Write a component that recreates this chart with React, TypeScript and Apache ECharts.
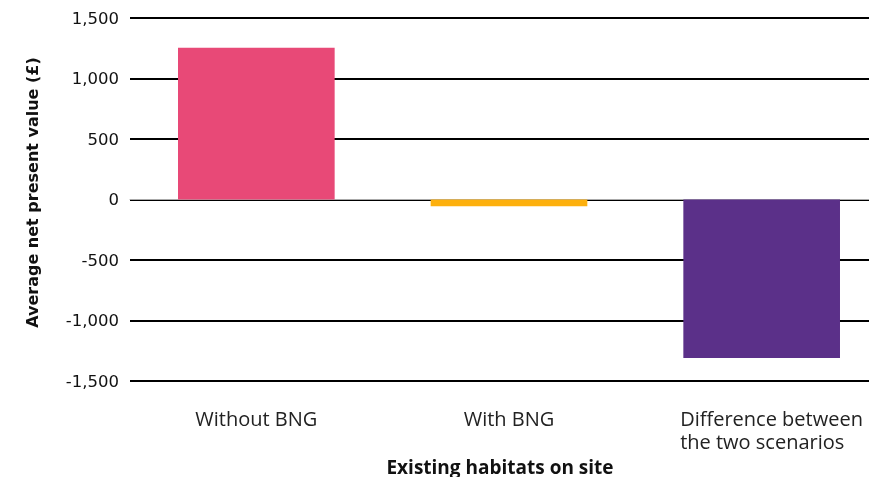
import React, { useEffect, useRef } from "react";
import * as echarts from "echarts";

const categories = ["Without BNG", "With BNG", "Difference between\nthe two scenarios"];
const values = [1255, -55, -1310];
const colors = ["#E84977", "#FDB00D", "#5B3089"];
const yTicks = { min: -1500, max: 1500, interval: 500 };

export default function App() {
  const ref = useRef<HTMLDivElement>(null);
  useEffect(() => {
    const chart = echarts.init(ref.current!, null, { renderer: "svg" });
    chart.setOption({
      animation: false,
      grid: { left: 130, right: 0, top: 18, bottom: 96, containLabel: false, outerBoundsMode: "none" },
      xAxis: {
        type: "category",
        data: categories,
        name: "Existing habitats on site",
        nameLocation: "middle",
        nameGap: 70,
        nameTextStyle: { fontFamily: "Open Sans", fontWeight: "bold", fontSize: 19, color: "#111", padding: [0, 18, 0, 0] },
        axisLine: { show: true, onZero: true, lineStyle: { color: "#aaa", width: 1 } },
        axisTick: { show: false },
        axisLabel: {
          interval: 0,
          margin: 26,
          fontFamily: "Open Sans",
          fontSize: 20,
          color: "#222",
          lineHeight: 23,
          formatter: (v: string, i: number) =>
            i === 2 ? v.split("\n").map((l) => `{l|${l}}`).join("\n") : v,
          rich: { l: { fontFamily: "Open Sans", fontSize: 20, color: "#222", width: 190, align: "left", padding: [0, 0, 0, 27], lineHeight: 23 } },
        },
      },
      yAxis: {
        type: "value",
        min: yTicks.min,
        max: yTicks.max,
        interval: yTicks.interval,
        name: "Average net present value (£)",
        nameLocation: "middle",
        nameGap: 90,
        nameTextStyle: { fontFamily: "DejaVu Sans", fontWeight: "bold", fontSize: 16, color: "#111", padding: [0, 0, 0, 14] },
        axisLine: { show: false },
        axisTick: { show: false },
        splitLine: { lineStyle: { color: "#000", width: 2 } },
        axisLabel: {
          margin: 11,
          fontFamily: "DejaVu Sans",
          fontSize: 16.5,
          color: "#111",
          formatter: (v: number) => v.toLocaleString("en-GB"),
        },
      },
      series: [
        {
          type: "bar",
          barWidth: "62%",
          data: values.map((v, i) => ({ value: v, itemStyle: { color: colors[i] } })),
        },
      ],
    });
    return () => chart.dispose();
  }, []);
  return (
    <div style={{ position: "fixed", left: 0, top: 0, width: 869, height: 477, overflow: "hidden" }}>
      <div ref={ref} style={{ width: 888, height: 477 }} />
    </div>
  );
}
